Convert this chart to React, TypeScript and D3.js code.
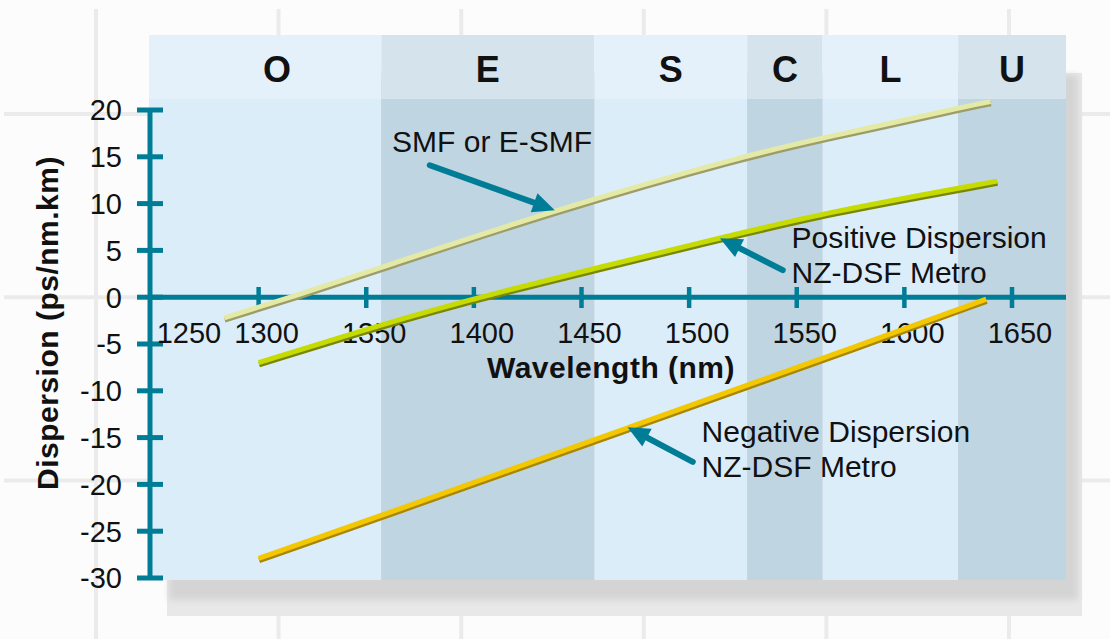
import React from "react";
import * as d3 from "d3";

// fibre dispersion curves (nm, ps/nm.km)
const smfNm = [1284, 1315, 1356, 1437, 1527, 1562, 1625, 1640];
const smfVal = [-2.2, 0, 3.1, 9.3, 15.2, 17.0, 20.2, 20.9];
const posNm = [1300, 1356, 1401, 1514, 1562, 1643];
const posVal = [-7.0, -3.0, 0, 6.3, 9.0, 12.4];
const negNm = [1300, 1356, 1471, 1587, 1638];
const negVal = [-27.9, -23.4, -14.0, -4.5, -0.2];

// wavelength bands
const bandNames = ["O", "E", "S", "C", "L", "U"];
const bandStarts = [1260, 1357, 1456, 1527, 1562, 1625];

const xTicks = [1250, 1300, 1350, 1400, 1450, 1500, 1550, 1600, 1650];
const yTicks = [20, 15, 10, 5, 0, -5, -10, -15, -20, -25, -30];

const W = 1110;
const H = 639;
const plotL = 149;
const plotR = 1066;
const headT = 35;
const plotT = 99;
const plotB = 580;

const teal = "#007d96";
const font = "'Liberation Sans', Arial, sans-serif";

const series = [
  { nm: smfNm, val: smfVal, color: "#e4eaa6", shade: "#9c9d68" },
  { nm: posNm, val: posVal, color: "#c6dc00", shade: "#7a8600" },
  { nm: negNm, val: negVal, color: "#f4c800", shade: "#a88600" },
];

// arrows: tip on curve, tail near label (data units)
const notes = [
  { lines: ["SMF or E-SMF"], at: [1362, 15.5], tip: [1437.6, 9.3], tail: [1379.5, 14.1] },
  { lines: ["Positive Dispersion", "NZ-DSF Metro"], at: [1547.6, 5.3], tip: [1514.3, 6.3], tail: [1543.5, 2.9] },
  { lines: ["Negative Dispersion", "NZ-DSF Metro"], at: [1505.8, -15.5], tip: [1471.4, -13.9], tail: [1501.7, -17.6] },
];

export default function App() {
  const x = d3.scaleLinear().domain([1250, 1650]).range([151, 1012]);
  const y = d3.scaleLinear().domain([-30, 20]).range([578, 110]);
  const line = d3
    .line<[number, number]>()
    .x((d) => x(d[0]))
    .y((d) => y(d[1]))
    .curve(d3.curveBasis);

  const gridX = d3.range(96, W, 182.6);
  const gridY = d3.range(114, H, 183.3);

  const arrowHead = (tip: number[], tail: number[]) => {
    const tx = x(tip[0]), ty = y(tip[1]);
    const sx = x(tail[0]), sy = y(tail[1]);
    const a = Math.atan2(ty - sy, tx - sx);
    const len = 22, hw = 10;
    const bx = tx - len * Math.cos(a), by = ty - len * Math.sin(a);
    const px = -Math.sin(a) * hw, py = Math.cos(a) * hw;
    return `M${tx},${ty}L${bx + px},${by + py}L${bx - px},${by - py}Z`;
  };

  return (
    <svg width={W} height={H} style={{ position: "absolute", left: 0, top: 0 }} fontFamily={font}>
      <defs>
        <filter id="blur" x="-10%" y="-10%" width="120%" height="120%">
          <feGaussianBlur stdDeviation="3" />
        </filter>
      </defs>
      <rect width={W} height={H} fill="#fcfcfc" />
      {gridX.map((gx) => (
        <line key={"gx" + gx} x1={gx} x2={gx} y1={9} y2={H} stroke="#ebebeb" strokeWidth={4} />
      ))}
      {gridY.map((gy) => (
        <line key={"gy" + gy} x1={4} x2={W} y1={gy} y2={gy} stroke="#ebebeb" strokeWidth={4} />
      ))}

      {/* drop shadow */}
      <rect x={plotL + 18} y={headT + 38} width={plotR - plotL - 2} height={plotB - headT - 2} fill="#e8e8e8" />
      <rect x={plotL + 20} y={headT + 40} width={plotR - plotL - 8} height={plotB - headT - 20} fill="#d4d4d4" filter="url(#blur)" />

      {/* bands */}
      {bandNames.map((b, i) => {
        const x0 = i === 0 ? plotL : x(bandStarts[i]);
        const x1 = i < bandNames.length - 1 ? x(bandStarts[i + 1]) : plotR;
        const dark = i % 2 === 1;
        const cx = (x(bandStarts[i]) + x1) / 2;
        return (
          <g key={b}>
            <rect x={x0} y={headT} width={x1 - x0} height={plotT - headT} fill={dark ? "#d5e3ec" : "#e4f1fa"} />
            <rect x={x0} y={plotT} width={x1 - x0} height={plotB - plotT} fill={dark ? "#c0d5e2" : "#dcedfa"} />
            <text x={cx} y={82} textAnchor="middle" fontSize={36} fontWeight="bold" fill="#111">
              {b}
            </text>
          </g>
        );
      })}

      {/* axes */}
      <line x1={x(1250) - 1} x2={x(1250) - 1} y1={y(20)} y2={y(-30)} stroke={teal} strokeWidth={5} />
      {yTicks.map((t) => (
        <g key={"yt" + t}>
          <line x1={137} x2={163} y1={y(t)} y2={y(t)} stroke={teal} strokeWidth={5} />
          <text x={122} y={y(t)} dy="0.36em" textAnchor="end" fontSize={29} fill="#111">
            {t}
          </text>
        </g>
      ))}
      <line x1={plotL} x2={plotR} y1={y(0)} y2={y(0)} stroke={teal} strokeWidth={5} />
      {xTicks.map((t, i) => (
        <g key={"xt" + t}>
          {i > 0 && <line x1={x(t)} x2={x(t)} y1={287} y2={308} stroke={teal} strokeWidth={4.5} />}
          <text x={i === 0 ? x(t) + 38 : x(t) + 8} y={343} textAnchor="middle" fontSize={29} fill="#111">
            {t}
          </text>
        </g>
      ))}
      <text x={611} y={378} textAnchor="middle" fontSize={30} fontWeight="bold" fill="#111" letterSpacing={0.5}>
        Wavelength (nm)
      </text>
      <text transform="translate(58,323) rotate(-90)" textAnchor="middle" fontSize={30} fontWeight="bold" fill="#111" letterSpacing={0.5}>
        Dispersion (ps/nm.km)
      </text>

      {/* curves */}
      {series.map((s, i) => {
        const pts = s.nm.map((n, j) => [n, s.val[j]] as [number, number]);
        const d = line(pts) || "";
        return (
          <g key={"s" + i}>
            <path d={d} transform="translate(0.5,2)" fill="none" stroke={s.shade} strokeWidth={5.5} />
            <path d={d} fill="none" stroke={s.color} strokeWidth={5} />
          </g>
        );
      })}

      {/* annotations */}
      {notes.map((n, i) => (
        <g key={"n" + i}>
          <line
            x1={x(n.tail[0])}
            y1={y(n.tail[1])}
            x2={(x(n.tip[0]) + x(n.tail[0])) / 2 + (x(n.tip[0]) - x(n.tail[0])) * 0.35}
            y2={(y(n.tip[1]) + y(n.tail[1])) / 2 + (y(n.tip[1]) - y(n.tail[1])) * 0.35}
            stroke={teal}
            strokeWidth={6}
            strokeLinecap="round"
          />
          <path d={arrowHead(n.tip, n.tail)} fill={teal} />
          {n.lines.map((l, j) => (
            <text key={j} x={x(n.at[0])} y={y(n.at[1]) + j * 35} fontSize={30} fill="#111">
              {l}
            </text>
          ))}
        </g>
      ))}
    </svg>
  );
}
